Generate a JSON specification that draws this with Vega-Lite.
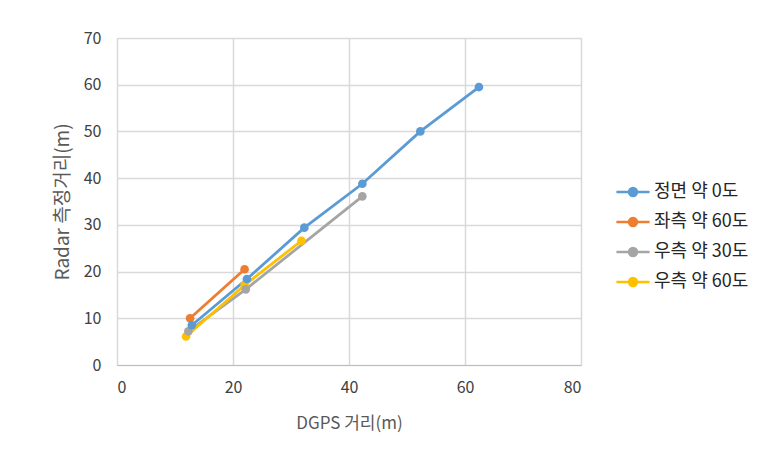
{
  "$schema": "https://vega.github.io/schema/vega-lite/v6.json",
  "autosize": {"type": "none"},
  "width": 464,
  "height": 327,
  "padding": {"left": 117, "top": 38, "right": 200, "bottom": 103},
  "background": "white",
  "config": {
    "view": {"stroke": "#d9d9d9", "strokeWidth": 1},
    "font": "Noto Sans CJK KR"
  },
  "data": {
    "values": [
      {"dgps": 12.9, "radar": 8.5, "series": "정면 약 0도"},
      {"dgps": 22.4, "radar": 18.4, "series": "정면 약 0도"},
      {"dgps": 32.3, "radar": 29.4, "series": "정면 약 0도"},
      {"dgps": 42.3, "radar": 38.8, "series": "정면 약 0도"},
      {"dgps": 52.3, "radar": 50.0, "series": "정면 약 0도"},
      {"dgps": 62.4, "radar": 59.5, "series": "정면 약 0도"},
      {"dgps": 12.6, "radar": 10.0, "series": "좌측 약 60도"},
      {"dgps": 22.0, "radar": 20.5, "series": "좌측 약 60도"},
      {"dgps": 12.3, "radar": 7.2, "series": "우측 약 30도"},
      {"dgps": 22.2, "radar": 16.2, "series": "우측 약 30도"},
      {"dgps": 42.3, "radar": 36.1, "series": "우측 약 30도"},
      {"dgps": 11.9, "radar": 6.1, "series": "우측 약 60도"},
      {"dgps": 22.0, "radar": 17.1, "series": "우측 약 60도"},
      {"dgps": 31.8, "radar": 26.6, "series": "우측 약 60도"}
    ]
  },
  "mark": {"type": "line", "strokeWidth": 2.8, "point": {"filled": true, "size": 75, "opacity": 1}},
  "encoding": {
    "x": {
      "field": "dgps", "type": "quantitative",
      "scale": {"domain": [0, 80], "nice": false, "zero": true},
      "axis": {
        "values": [0, 20, 40, 60, 80],
        "title": "DGPS 거리(m)",
        "titleFont": "Noto Sans CJK KR", "titleFontSize": 17, "titleFontWeight": "normal", "titleColor": "#595959",
        "titlePadding": 20,
        "labelFontSize": 16, "labelColor": "#404040", "labelPadding": 14,
        "ticks": false, "domainColor": "#bfbfbf",
        "gridColor": "#d9d9d9", "gridWidth": 1.5
      }
    },
    "y": {
      "field": "radar", "type": "quantitative",
      "scale": {"domain": [0, 70], "nice": false},
      "axis": {
        "values": [0, 10, 20, 30, 40, 50, 60, 70],
        "title": "Radar 측정거리(m)",
        "titleFont": "Noto Sans CJK KR", "titleFontSize": 19, "titleFontWeight": "normal", "titleColor": "#595959",
        "titlePadding": 11,
        "labelFontSize": 16, "labelColor": "#404040", "labelPadding": 16,
        "ticks": false, "domain": false,
        "gridColor": "#d9d9d9", "gridWidth": 1.5
      }
    },
    "color": {
      "field": "series", "type": "nominal",
      "scale": {
        "domain": ["정면 약 0도", "좌측 약 60도", "우측 약 30도", "우측 약 60도"],
        "range": ["#5b9bd5", "#ed7d31", "#a5a5a5", "#ffc000"]
      },
      "legend": {
        "title": null,
        "orient": "none",
        "legendX": 498,
        "legendY": 136,
        "symbolType": "M-1,0H-0.24M0.24,0H1M-0.24,0A0.24,0.24,0,1,1,0.24,0A0.24,0.24,0,1,1,-0.24,0Z",
        "symbolSize": 1100,
        "symbolStrokeWidth": 2.5,
        "labelFontSize": 18,
        "labelColor": "#262626",
        "labelOffset": 3,
        "rowPadding": 3,
        "encode": {"symbols": {"update": {"fill": {"scale": "color", "field": "value"}, "fillOpacity": {"value": 1}}}}
      }
    },
    "order": {"field": "dgps", "type": "quantitative"}
  }
}
